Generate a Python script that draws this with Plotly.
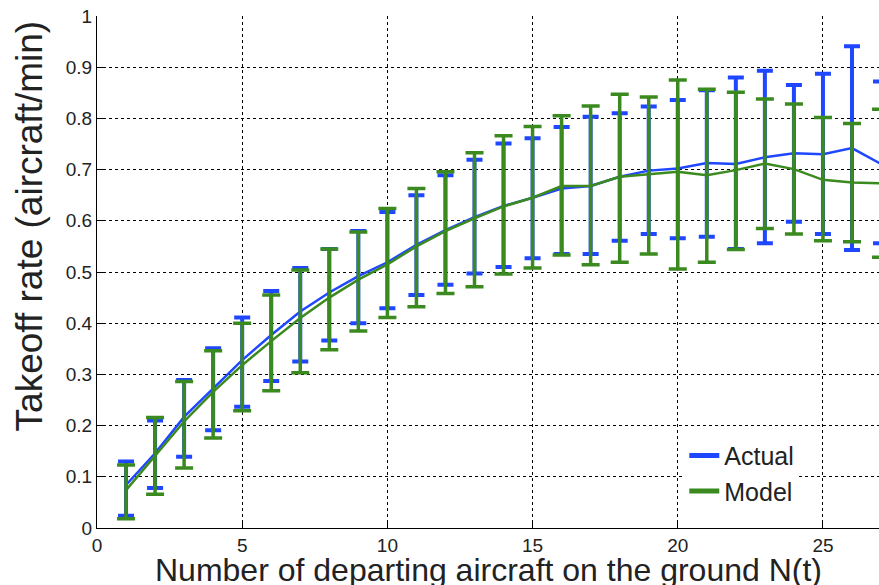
import plotly.graph_objects as go

n_ground = list(range(1, 28))

actual_rate = [0.084, 0.146, 0.217, 0.273, 0.328, 0.377, 0.423, 0.460, 0.492, 0.519, 0.553,
               0.582, 0.607, 0.629, 0.645, 0.663, 0.668, 0.686, 0.698, 0.702, 0.713, 0.711,
               0.724, 0.732, 0.730, 0.742, 0.711]
actual_upper = [0.130, 0.210, 0.289, 0.351, 0.411, 0.463, 0.508, 0.545, 0.580, 0.617, 0.650,
                0.689, 0.719, 0.751, 0.761, 0.783, 0.803, 0.810, 0.823, 0.836, 0.855, 0.880,
                0.893, 0.865, 0.887, 0.941, 0.872]
actual_lower = [0.024, 0.078, 0.139, 0.191, 0.237, 0.287, 0.325, 0.366, 0.400, 0.429, 0.455,
                0.475, 0.497, 0.510, 0.527, 0.535, 0.535, 0.561, 0.574, 0.566, 0.569, 0.545,
                0.556, 0.598, 0.574, 0.543, 0.556]

model_rate = [0.074, 0.140, 0.208, 0.266, 0.318, 0.365, 0.410, 0.450, 0.485, 0.515, 0.550,
              0.580, 0.605, 0.628, 0.645, 0.668, 0.668, 0.686, 0.691, 0.696, 0.689, 0.699,
              0.712, 0.701, 0.680, 0.675, 0.673]
model_upper = [0.123, 0.216, 0.286, 0.346, 0.400, 0.455, 0.504, 0.545, 0.578, 0.624, 0.663,
               0.696, 0.733, 0.766, 0.784, 0.805, 0.824, 0.847, 0.842, 0.875, 0.857, 0.851,
               0.838, 0.828, 0.802, 0.790, 0.818]
model_lower = [0.018, 0.066, 0.117, 0.176, 0.229, 0.268, 0.303, 0.348, 0.385, 0.411, 0.432,
               0.458, 0.471, 0.496, 0.508, 0.533, 0.514, 0.519, 0.535, 0.506, 0.519, 0.544,
               0.585, 0.574, 0.561, 0.559, 0.529]

x_ticks = [0, 5, 10, 15, 20, 25]
y_ticks = [0, 0.1, 0.2, 0.3, 0.4, 0.5, 0.6, 0.7, 0.8, 0.9, 1]
y_tick_labels = ["0", "0.1", "0.2", "0.3", "0.4", "0.5", "0.6", "0.7", "0.8", "0.9", "1"]

BLUE = "#1f47ff"
GREEN = "#3b8a1f"
FONT = "Liberation Sans, Arial, Helvetica"

fig = go.Figure()
fig.add_trace(go.Scatter(
    x=n_ground, y=actual_rate, mode="lines", name="Actual", showlegend=False,
    line=dict(color=BLUE, width=2.5),
    error_y=dict(type="data", symmetric=False,
                 array=[u - m for u, m in zip(actual_upper, actual_rate)],
                 arrayminus=[m - l for m, l in zip(actual_rate, actual_lower)],
                 color=BLUE, thickness=4, width=8),
))
fig.add_trace(go.Scatter(
    x=n_ground, y=model_rate, mode="lines", name="Model", showlegend=False,
    line=dict(color=GREEN, width=2.5),
    error_y=dict(type="data", symmetric=False,
                 array=[u - m for u, m in zip(model_upper, model_rate)],
                 arrayminus=[m - l for m, l in zip(model_rate, model_lower)],
                 color=GREEN, thickness=3.5, width=9),
))
# legend entries (thicker legend lines as in the reference)
fig.add_trace(go.Scatter(x=[None], y=[None], mode="lines", name="Actual",
                         line=dict(color=BLUE, width=5)))
fig.add_trace(go.Scatter(x=[None], y=[None], mode="lines", name="Model",
                         line=dict(color=GREEN, width=5)))

axis_common = dict(
    showgrid=True, gridcolor="black", griddash="dot", gridwidth=1,
    showline=True, linecolor="black", linewidth=1.2,
    ticks="inside", ticklen=6, tickcolor="black",
    tickfont=dict(family=FONT, size=19, color="#222"),
    ticklabeloverflow="allow",
    zeroline=False,
)

fig.update_xaxes(range=[0, 26.93], tickvals=x_ticks, **axis_common)
fig.update_yaxes(range=[0, 1], tickvals=y_ticks, ticktext=y_tick_labels, **axis_common)

fig.add_annotation(text="Number of departing aircraft on the ground N(t)",
                   xref="paper", yref="paper", x=0.5, y=0, yanchor="top", yshift=-22,
                   showarrow=False,
                   font=dict(family=FONT, size=32, color="#222"))
fig.add_annotation(text="Takeoff rate (aircraft/min)",
                   xref="paper", yref="paper", x=0, y=0.59, xanchor="right", xshift=-45,
                   textangle=-90, showarrow=False,
                   font=dict(family=FONT, size=37, color="#222"))

fig.update_layout(
    width=879, height=585,
    margin=dict(l=97, r=0, t=16, b=57),
    plot_bgcolor="white", paper_bgcolor="white",
    legend=dict(x=0.751, y=0.186, xanchor="left", yanchor="top",
                bgcolor="white", borderwidth=0,
                font=dict(family=FONT, size=25, color="#222")),
)

fig.write_html("out.html", config={"displayModeBar": False},
               post_script="document.body.style.margin='0';")
